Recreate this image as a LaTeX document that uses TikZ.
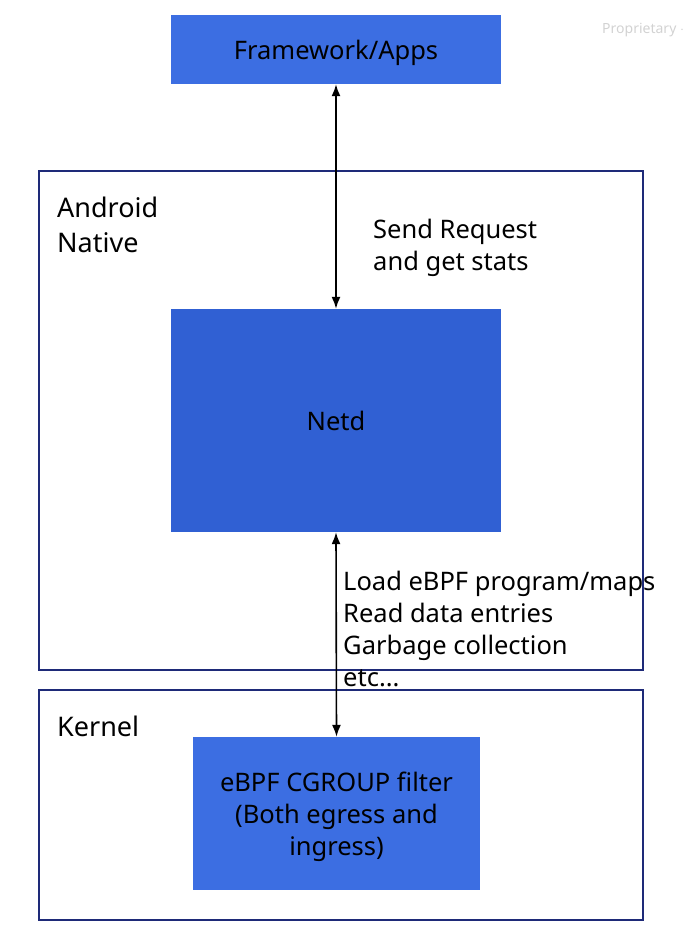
\documentclass[tikz,border=0pt]{standalone}
\usepackage{fontspec}
\setmainfont{Noto Sans}
\usepackage{xcolor}
\usetikzlibrary{arrows.meta}
\definecolor{boxblue}{HTML}{3C6EE2}
\definecolor{netdblue}{HTML}{3060D3}
\definecolor{frameline}{HTML}{1E2A78}
\begin{document}
\begin{tikzpicture}[x=1pt,y=-1pt,>={Latex[length=12pt,width=9pt]},
    bluebox/.style={fill=boxblue,draw=none,inner sep=0pt,align=center,text depth=0pt,font=\fontsize{25.5}{32}\selectfont},
    layerbox/.style={draw=frameline,line width=1.2pt,inner sep=0pt},
    layername/.style={anchor=base west,align=left,inner sep=0pt,font=\fontsize{27}{35}\selectfont},
    note/.style={anchor=base west,align=left,inner sep=0pt,font=\fontsize{25.5}{32}\selectfont}]
            \useasboundingbox (0,0) rectangle (686,934);

            % outer layers
            \node[layerbox,minimum width=604pt,minimum height=499pt] (native) at (341,420.5) {};
            \node[layername] (nativelbl) at (57,252) {Android\\Native};

            \node[layerbox,minimum width=604pt,minimum height=230pt] (kernel) at (341,805) {};
            \node[layername] (kernellbl) at (57,736) {Kernel};

            % blocks
            \node[bluebox,minimum width=330pt,minimum height=69pt] (apps) at (336,49.5) {Framework/Apps};
            \node[bluebox,fill=netdblue,minimum width=330pt,minimum height=223pt] (netd) at (336,420.5) {Netd};
            \node[bluebox,minimum width=287pt,minimum height=153pt] (filter) at (336.5,813.5) {eBPF CGROUP filter\\(Both egress and\\ingress)};

            % links
            \draw[<->,line width=1.6pt] (apps.south) -- (netd.north);
            \draw[<->,line width=1.6pt] (netd.south) -- (filter.north);

            \node[note] (reqlbl) at (373,270) {Send Request\\and get stats};
            \node[note] (loadlbl) at (343,686) {Load eBPF program/maps\\Read data entries\\Garbage collection\\etc...};

            \node[anchor=west,inner sep=0pt,text=gray!35,font=\fontsize{14}{16}\selectfont] (tag) at (602,30) {Proprietary $\cdot$};
        \end{tikzpicture}
\end{document}
